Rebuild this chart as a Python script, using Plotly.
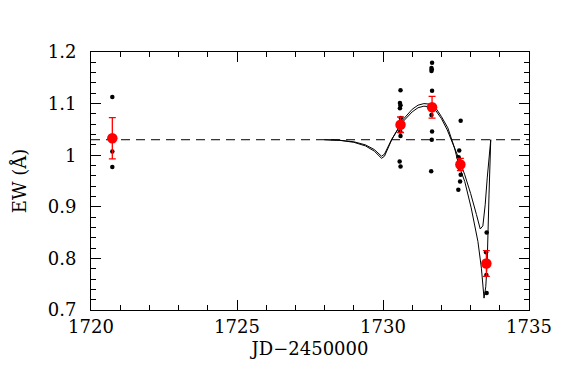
import plotly.graph_objects as go

# Mean EW values with errors
red_x = [1720.73, 1730.60, 1731.68, 1732.65, 1733.54]
red_y = [1.033, 1.059, 1.093, 0.982, 0.790]
red_err = [0.040, 0.015, 0.021, 0.012, 0.025]

# Individual measurements
black_x = [1720.73, 1720.73, 1720.73,
           1730.60, 1730.58, 1730.60, 1730.58, 1730.61, 1730.59, 1730.60, 1730.57, 1730.60,
           1731.68, 1731.66, 1731.67, 1731.66, 1731.68, 1731.66, 1731.68, 1731.67, 1731.65,
           1732.66, 1732.61, 1732.59, 1732.64, 1732.62, 1732.66, 1732.64, 1732.58,
           1733.55, 1733.53, 1733.54, 1733.55]
black_y = [1.113, 1.007, 0.977,
           1.126, 1.101, 1.097, 1.091, 1.072, 1.046, 1.037, 0.988, 0.978,
           1.179, 1.169, 1.166, 1.163, 1.125, 1.078, 1.046, 1.030, 0.969,
           1.067, 1.009, 0.996, 0.988, 0.975, 0.962, 0.949, 0.933,
           0.850, 0.812, 0.768, 0.733]

# Model curve A (shallow second minimum)
modA_x = [1728.0, 1728.5, 1729.0, 1729.4, 1729.7, 1729.85, 1729.95, 1730.05, 1730.15, 1730.3,
          1730.5, 1730.7, 1731.0, 1731.2, 1731.4, 1731.6, 1731.8, 1732.0, 1732.2, 1732.4,
          1732.6, 1732.8, 1733.0, 1733.2, 1733.33, 1733.42, 1733.5, 1733.57, 1733.65, 1733.69]
modA_y = [1.030, 1.029, 1.026, 1.020, 1.011, 1.003, 0.998, 1.002, 1.014, 1.031,
          1.049, 1.066, 1.084, 1.092, 1.095, 1.094, 1.087, 1.071, 1.049, 1.022,
          0.993, 0.962, 0.926, 0.885, 0.857, 0.863, 0.904, 0.956, 1.014, 1.030]

# Model curve B (deep second minimum)
modB_x = [1728.0, 1728.5, 1729.0, 1729.4, 1729.7, 1729.85, 1729.95, 1730.05, 1730.15, 1730.3,
          1730.5, 1730.7, 1731.0, 1731.2, 1731.4, 1731.6, 1731.8, 1732.0, 1732.22, 1732.45,
          1732.6, 1732.8, 1733.02, 1733.25, 1733.37, 1733.46, 1733.52, 1733.57, 1733.63, 1733.69]
modB_y = [1.030, 1.029, 1.025, 1.018, 1.008, 0.999, 0.994, 0.998, 1.011, 1.030,
          1.050, 1.070, 1.089, 1.097, 1.100, 1.099, 1.092, 1.075, 1.053, 1.014,
          0.980, 0.949, 0.898, 0.833, 0.781, 0.723, 0.745, 0.794, 0.923, 1.030]

ref_level = 1.03
x_range = [1720, 1735]
y_range = [0.7, 1.2]
y_ticks = [0.7, 0.8, 0.9, 1.0, 1.1, 1.2]
y_ticktext = ["0.7", "0.8", "0.9", "1", "1.1", "1.2"]
x_ticks = [1720, 1725, 1730, 1735]

fig = go.Figure()
fig.add_trace(go.Scatter(x=x_range, y=[ref_level, ref_level], mode="lines",
                         line=dict(color="black", width=1, dash="9px,6px"), showlegend=False))
fig.add_trace(go.Scatter(x=modA_x, y=modA_y, mode="lines", line=dict(color="black", width=1),
                         showlegend=False))
fig.add_trace(go.Scatter(x=modB_x, y=modB_y, mode="lines", line=dict(color="black", width=1),
                         showlegend=False))
fig.add_trace(go.Scatter(x=black_x, y=black_y, mode="markers",
                         marker=dict(color="black", size=4.5, symbol="circle"), showlegend=False))
fig.add_trace(go.Scatter(x=red_x, y=red_y, mode="markers",
                         marker=dict(color="#ff0000", size=10.5),
                         error_y=dict(type="data", array=red_err, color="#ff0000", thickness=1.3, width=3.5),
                         showlegend=False))

font = dict(family="DejaVu Serif", size=18, color="black")
axis_common = dict(ticks="inside", mirror="allticks", showline=True, linecolor="black", linewidth=1,
                   tickcolor="black", ticklen=10, showgrid=False, zeroline=False, tickfont=font)
fig.update_xaxes(range=x_range, tickvals=x_ticks, ticktext=[str(v) for v in x_ticks],
                 minor=dict(dtick=1, ticks="inside", ticklen=5, tickcolor="black", showgrid=False),
                 title=dict(text="JD\u22122450000", font=font, standoff=6), **axis_common)
fig.update_yaxes(range=y_range, tickvals=y_ticks, ticktext=y_ticktext, ticklabelstandoff=10,
                 minor=dict(dtick=0.02, ticks="inside", ticklen=5, tickcolor="black", showgrid=False),
                 title=dict(text="EW (Å)", font=font, standoff=16), **axis_common)
fig.update_layout(width=572, height=379, margin=dict(l=83, r=51, t=44, b=77),
                  paper_bgcolor="white", plot_bgcolor="white", font=font)
fig.write_html("out.html")
